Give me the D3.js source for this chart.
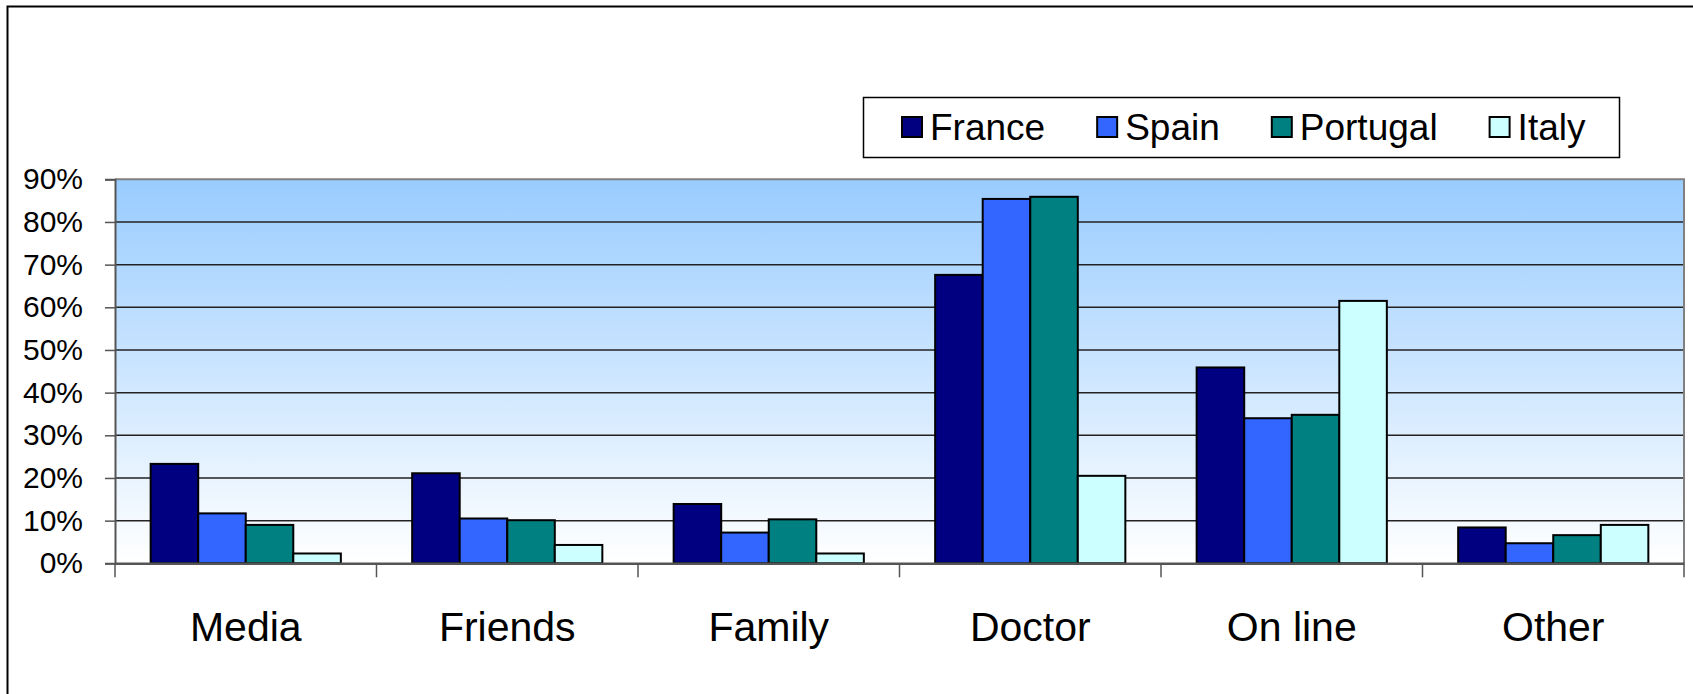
<!DOCTYPE html>
<html>
<head>
<meta charset="utf-8">
<script src="https://cdn.jsdelivr.net/npm/d3@7"></script>
<style>
  html, body { margin: 0; padding: 0; background: #fff; }
  svg { display: block; font-family: Arial, "Liberation Sans", sans-serif; }
</style>
</head>
<body>
<div class="chart"></div>
<script>
// 数据
const categories = ['Media', 'Friends', 'Family', 'Doctor', 'On line', 'Other']
const seriesNames = ['France', 'Spain', 'Portugal', 'Italy']
const france = [23.3, 21.1, 13.9, 67.6, 45.9, 8.4]
const spain = [11.7, 10.5, 7.2, 85.4, 34.0, 4.7]
const portugal = [9.0, 10.1, 10.3, 85.9, 34.8, 6.6]
const italy = [2.3, 4.3, 2.3, 20.5, 61.5, 9.0]
const yTicks = [0, 10, 20, 30, 40, 50, 60, 70, 80, 90]
const colors = ['#000080', '#3366FF', '#008080', '#CCFFFF']

const seriesValues = [france, spain, portugal, italy]
const rows = categories.map((c, i) => ({
  cat: c,
  vals: seriesNames.map((s, j) => ({ name: s, value: seriesValues[j][i] }))
}))

const width = 1693
const height = 694
const plot = { left: 115, right: 1684, top: 179.3, bottom: 563.3 }

const svg = d3.select('.chart').append('svg')
  .attr('width', width)
  .attr('height', height)

// 背景渐变
const defs = svg.append('defs')
const grad = defs.append('linearGradient')
  .attr('id', 'bgGrad')
  .attr('x1', 0).attr('y1', 0).attr('x2', 0).attr('y2', 1)
grad.append('stop').attr('offset', '0%').attr('stop-color', '#99CCFF')
grad.append('stop').attr('offset', '100%').attr('stop-color', '#FFFFFF')

// 外边框
svg.append('rect')
  .attr('x', 7.5).attr('y', 6.5)
  .attr('width', 1720).attr('height', 720)
  .attr('fill', '#fff')
  .attr('stroke', '#000')
  .attr('stroke-width', 2)

// 比例尺
const x0 = d3.scaleBand().domain(categories).range([plot.left, plot.right])
const bw = x0.bandwidth() / 5.5 // gap width 150%
const x1 = d3.scaleBand().domain(seriesNames)
  .range([0.75 * bw, 4.75 * bw])
const y = d3.scaleLinear().domain([0, 90]).range([plot.bottom, plot.top])

// 绘图区
svg.append('rect')
  .attr('x', plot.left).attr('y', plot.top)
  .attr('width', plot.right - plot.left)
  .attr('height', plot.bottom - plot.top)
  .attr('fill', 'url(#bgGrad)')

// 网格线
svg.append('g').selectAll('line')
  .data(yTicks.filter(d => d > 0 && d < 90))
  .join('line')
  .attr('x1', plot.left).attr('x2', plot.right)
  .attr('y1', d => y(d)).attr('y2', d => y(d))
  .attr('stroke', '#222')
  .attr('stroke-width', 1.5)

// 绘图区边框（上、右）
svg.append('path')
  .attr('d', `M${plot.left},${plot.top}H${plot.right}V${plot.bottom}`)
  .attr('fill', 'none')
  .attr('stroke', '#808080')
  .attr('stroke-width', 2)

// 柱子
const groups = svg.append('g').selectAll('g')
  .data(rows)
  .join('g')
  .attr('transform', d => `translate(${x0(d.cat)},0)`)

groups.selectAll('rect')
  .data(d => d.vals)
  .join('rect')
  .attr('x', d => x1(d.name))
  .attr('width', x1.bandwidth())
  .attr('y', d => y(d.value))
  .attr('height', d => y(0) - y(d.value))
  .attr('fill', (d, i) => colors[i])
  .attr('stroke', '#000')
  .attr('stroke-width', 2)

// Y 轴
const yAxis = svg.append('g')
  .attr('transform', `translate(${plot.left},0)`)
  .call(d3.axisLeft(y).tickValues(yTicks).tickSize(10).tickPadding(22).tickFormat(d => d + '%'))
yAxis.select('.domain').attr('stroke', '#555').attr('stroke-width', 2)
yAxis.selectAll('.tick line').attr('stroke', '#555').attr('stroke-width', 1.5)
yAxis.selectAll('.tick text')
  .attr('font-size', 30)
  .attr('fill', '#000')
  .attr('font-family', 'Arial, "Liberation Sans", sans-serif')

// X 轴
const xAxis = svg.append('g')
  .attr('transform', `translate(0,${plot.bottom})`)
  .call(d3.axisBottom(x0).tickSize(0).tickPadding(0))
xAxis.select('.domain').attr('stroke', '#555').attr('stroke-width', 2.5)
xAxis.selectAll('.tick text')
  .attr('y', 78)
  .attr('dy', 0)
  .attr('font-size', 41)
  .attr('fill', '#000')
  .attr('font-family', 'Arial, "Liberation Sans", sans-serif')

// X 轴刻度（类别之间）
const bounds = categories.map(c => x0(c)).concat([plot.right])
svg.append('g').selectAll('line')
  .data(bounds)
  .join('line')
  .attr('x1', d => d).attr('x2', d => d)
  .attr('y1', plot.bottom).attr('y2', plot.bottom + 14)
  .attr('stroke', '#555')
  .attr('stroke-width', 1.5)

// 图例
const legend = svg.append('g')
legend.append('rect')
  .attr('x', 863.5).attr('y', 97.5)
  .attr('width', 756).attr('height', 60)
  .attr('fill', '#fff')
  .attr('stroke', '#000')
  .attr('stroke-width', 1.5)

let lx = 902
seriesNames.forEach((name, i) => {
  legend.append('rect')
    .attr('x', lx).attr('y', 117)
    .attr('width', 20).attr('height', 20)
    .attr('fill', colors[i])
    .attr('stroke', '#000')
    .attr('stroke-width', 2)
  const t = legend.append('text')
    .attr('x', lx + 28).attr('y', 140)
    .attr('font-size', 37)
    .attr('fill', '#000')
    .text(name)
  lx = lx + 28 + t.node().getComputedTextLength() + 52
})
</script>
</body>
</html>
